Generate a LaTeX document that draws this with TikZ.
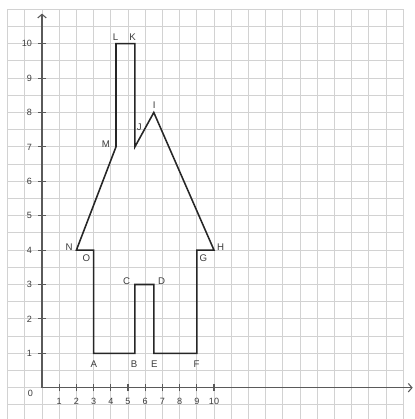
\documentclass[tikz,border=0pt]{standalone}
\usepackage{fontspec}
\setmainfont{Liberation Sans}
\usepackage{tikz}
\usetikzlibrary{arrows.meta,positioning}
\definecolor{gridgray}{HTML}{D2D2D2}
\definecolor{axisgray}{HTML}{5A5A5A}
\definecolor{textgray}{HTML}{3C3C3C}

\begin{document}
\begin{tikzpicture}[
  x=0.5cm, y=0.5cm,
  gridline/.style={gridgray, line width=0.7pt},
  axis/.style={axisgray, line width=0.9pt, -{Straight Barb[length=3pt, width=7pt]}},
  tick/.style={axisgray, line width=0.9pt},
  num/.style={font=\fontsize{7.5}{8}\selectfont, text=textgray, inner sep=1pt},
  pt/.style={font=\fontsize{8}{9}\selectfont, text=textgray, inner sep=1pt},
  house/.style={black!85, line width=1.3pt, line join=miter},
]
  \useasboundingbox (-2.442,-1.82) rectangle (21.63,22.54);

  % Grid
  \foreach \i in {-2,...,21}
    \draw[gridline] (\i,-1.82) -- (\i,22);
  \foreach \j in {-1,...,22}
    \draw[gridline] (-2,\j) -- (21,\j);

  % Axes
  \coordinate (origin) at (0,0);
  \coordinate (xend) at (21.55,0);
  \coordinate (yend) at (0,21.75);
  \draw[axis] (origin) -- (xend);
  \draw[axis] (origin) -- (yend);
  \foreach \i in {1,...,10} {
    \draw[tick] (\i,-0.22) -- (\i,0.22);
    \node[num] (xl\i) at (\i,-0.82) {\i};
    \draw[tick] (-0.22,2*\i) -- (0.22,2*\i);
    \node[num, anchor=east] (yl\i) at (-0.5,2*\i) {\i};
  }
  \node[num, anchor=east] (zero) at (-0.45,-0.32) {0};

  % House corners
  \coordinate (A) at (3,2);
  \coordinate (B) at (5.4,2);
  \coordinate (C) at (5.4,6);
  \coordinate (D) at (6.5,6);
  \coordinate (E) at (6.5,2);
  \coordinate (F) at (9,2);
  \coordinate (G) at (9,8);
  \coordinate (H) at (10,8);
  \coordinate (I) at (6.5,16);
  \coordinate (J) at (5.4,14);
  \coordinate (K) at (5.4,20);
  \coordinate (L) at (4.3,20);
  \coordinate (M) at (4.3,14);
  \coordinate (N) at (2,8);
  \coordinate (O) at (3,8);

  % Outline
  \draw[house] (A) -- (B) -- (C) -- (D) -- (E) -- (F) -- (G) -- (H) -- (I)
    -- (J) -- (K) -- (L) -- (M) -- (N) -- (O) -- cycle;

  % Labels
  \node[pt] (lA) at (3.02,1.38) {A};
  \node[pt] (lB) at (5.35,1.38) {B};
  \node[pt] (lE) at (6.53,1.38) {E};
  \node[pt] (lF) at (8.99,1.38) {F};
  \node[pt] (lC) at (4.92,6.22) {C};
  \node[pt] (lD) at (6.96,6.22) {D};
  \node[pt] (lO) at (2.58,7.52) {O};
  \node[pt] (lG) at (9.38,7.52) {G};
  \node[pt] (lN) at (1.57,8.16) {N};
  \node[pt] (lH) at (10.38,8.16) {H};
  \node[pt] (lM) at (3.72,14.17) {M};
  \node[pt] (lJ) at (5.66,15.17) {J};
  \node[pt] (lI) at (6.53,16.43) {I};
  \node[pt] (lL) at (4.28,20.4) {L};
  \node[pt] (lK) at (5.27,20.4) {K};
\end{tikzpicture}
\end{document}
